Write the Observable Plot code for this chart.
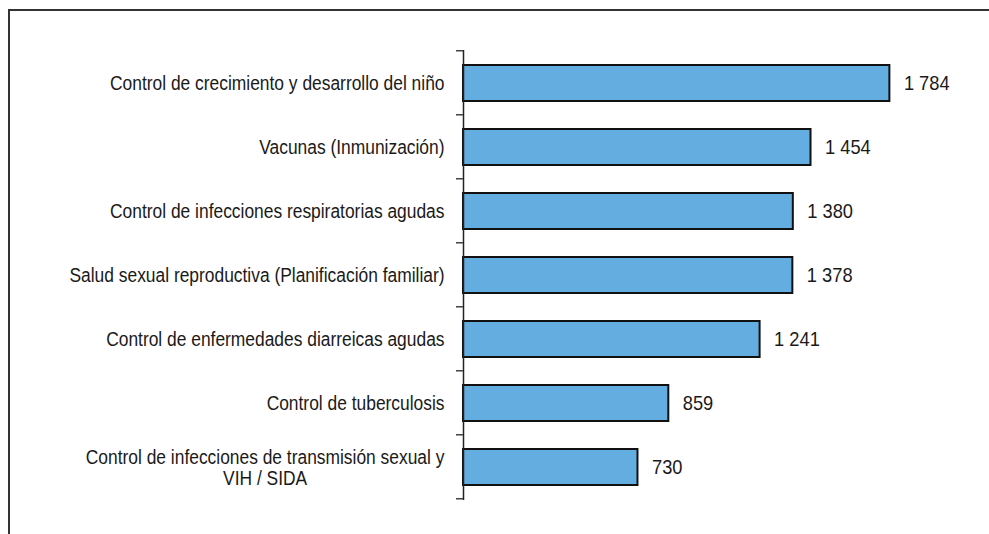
<!DOCTYPE html>
<html><head><meta charset="utf-8">
<script src="https://cdn.jsdelivr.net/npm/d3@7"></script>
<script src="https://cdn.jsdelivr.net/npm/@observablehq/plot@0.6"></script>
<style>
body{margin:0;background:#fff;}
#wrap{position:relative;width:989px;height:534px;overflow:hidden;}
#frame{position:absolute;left:8px;top:9px;width:1200px;height:800px;border-left:2px solid #333;border-top:2px solid #333;pointer-events:none;}
svg{display:block;}
</style></head><body><div id="wrap"><div id="frame"></div></div>
<script>
const categories = [
  "Control de crecimiento y desarrollo del niño",
  "Vacunas (Inmunización)",
  "Control de infecciones respiratorias agudas",
  "Salud sexual reproductiva (Planificación familiar)",
  "Control de enfermedades diarreicas agudas",
  "Control de tuberculosis",
  "Control de infecciones de transmisión sexual y\nVIH / SIDA"
];
const values = [1784, 1454, 1380, 1378, 1241, 859, 730];

const data = categories.map((c, i) => ({category: c, value: values[i]}));
const FONT = "'Liberation Sans', Arial, sans-serif";
const FS = 20;
const SX = 0.87; // horizontal condensing to mimic a narrow typeface
const fmt = d3.formatLocale({decimal: ",", thousands: " ", grouping: [3], currency: ["", ""]}).format(",d");

const multi = categories.filter(c => c.includes("\n"));
const ctx = document.createElement("canvas").getContext("2d");
ctx.font = `${FS}px ${FONT}`;
const lineW = c => d3.max(c.split("\n"), l => ctx.measureText(l).width);

const PAD = 19;

function boundaryTicks(index, scales, values, dims) {
  const y = scales.y;
  const step = y(categories[1]) - y(categories[0]);
  const off = 0.2225 * step;
  const pos = categories.map(c => y(c) - off);
  pos.push(y(categories[categories.length - 1]) - off + step);
  const g = d3.create("svg:g");
  g.selectAll("line").data(pos).join("line")
    .attr("x1", dims.marginLeft - 7).attr("x2", dims.marginLeft)
    .attr("y1", d => d).attr("y2", d => d)
    .attr("stroke", "#444").attr("stroke-width", 1.5);
  return g.node();
}

const plot = Plot.plot({
  width: 989,
  height: 534,
  marginLeft: 463,
  marginRight: 48,
  marginTop: 50,
  marginBottom: 34,
  style: {fontFamily: FONT, fontSize: FS + "px", color: "#1a1a1a", background: "transparent"},
  x: {domain: [0, 2000], axis: null},
  y: {domain: categories, paddingInner: 0.445, paddingOuter: 0.2225, label: null},
  marks: [
    Plot.barX(data, {x: "value", y: "category", fill: "#64ade0", stroke: "#111", strokeWidth: 2}),
    Plot.ruleX([0], {stroke: "#222", strokeWidth: 1.5}),
    boundaryTicks,
    Plot.axisY({tickSize: 0, tickPadding: PAD, fontSize: FS, fill: "#1a1a1a",
      tickFormat: d => d.includes("\n") ? "" : d}),
    Plot.text(multi, {y: d => d, text: d => d, frameAnchor: "left", textAnchor: "middle",
      dx: -(PAD + SX * lineW(multi[0]) / 2), fontSize: FS, fill: "#1a1a1a", lineHeight: 1.05}),
    Plot.text(data, {x: "value", y: "category", text: d => fmt(d.value), textAnchor: "start",
      dx: 14, fontSize: FS + 1, fill: "#1a1a1a"})
  ]
});
document.getElementById("wrap").prepend(plot);

// condense every text horizontally about its own anchor point
plot.querySelectorAll("text").forEach(t => {
  if (!t.textContent.trim()) return;
  const b = t.getBBox();
  const anchor = getComputedStyle(t).textAnchor;
  const ax = anchor === "end" ? b.x + b.width : anchor === "middle" ? b.x + b.width / 2 : b.x;
  const prev = t.getAttribute("transform") || "";
  t.setAttribute("transform", `${prev} translate(${ax},0) scale(${SX},1) translate(${-ax},0)`);
});
</script></body></html>
